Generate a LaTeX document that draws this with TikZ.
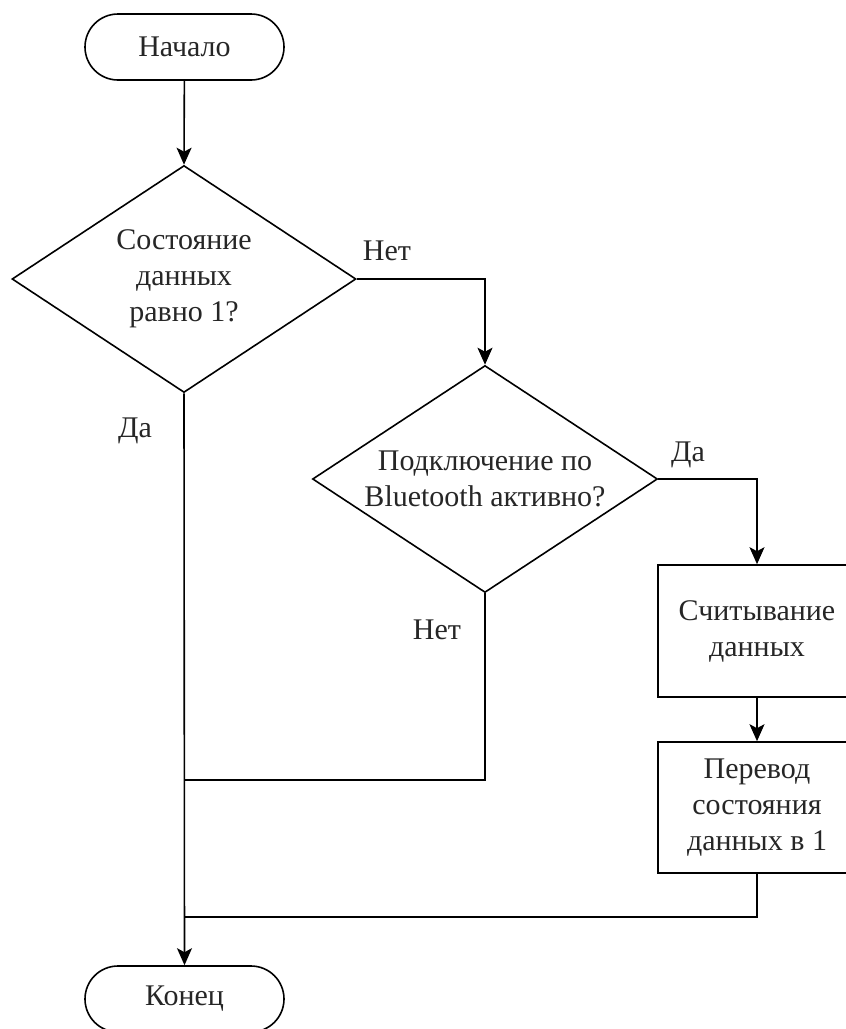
\documentclass[tikz,border=0pt]{standalone}
\usepackage{fontspec}
\setmainfont{Liberation Serif}
\usetikzlibrary{shapes.geometric,arrows.meta}
\begin{document}
\begin{tikzpicture}[x=1pt,y=-1pt,
  line width=1.6pt,
  every node/.style={font=\fontsize{30}{36}\selectfont, text=black!85},
  terminal/.style={draw, line width=1.6pt, rounded corners=33pt, minimum width=199pt, minimum height=66pt, inner sep=0pt},
  decision/.style={draw, diamond, line width=1.6pt, inner sep=0pt, minimum width=#1, minimum height=227pt},
  process/.style={draw, rectangle, line width=1.6pt, minimum width=198pt, inner sep=0pt},
  caption/.style={align=center, inner sep=0pt},
  edgelabel/.style={anchor=base, inner sep=0pt},
  flow/.style={-{Stealth[length=17pt,width=15pt,inset=4pt]}},
]
\useasboundingbox (0,0) rectangle (846,1029);
\clip (0,0) rectangle (846,1029);

% blocks
\node[terminal] (start) at (184.5,47) {Начало};
\node[decision=344pt] (d1) at (184,279) {};
\node[caption] (d1t) at (d1.center) {Состояние\\данных\\равно 1?};
\node[decision=345pt] (d2) at (485,479) {};
\node[caption] (d2t) at (d2.center) {Подключение по\\Bluetooth активно?};
\node[process, minimum height=132pt] (b1) at (757,631) {};
\node[caption] (b1t) at (b1.center) {Считывание\\данных};
\node[process, minimum height=131pt] (b2) at (757,807.5) {};
\node[caption] (b2t) at (b2.center) {Перевод\\состояния\\данных в 1};
\node[terminal] (finish) at (184.5,999) {Конец};

% junction points on the main line
\coordinate (j1) at (184.5,780);
\coordinate (j2) at (184.5,917);

% connectors
\draw[flow] (start) -- (d1.north);
\draw[flow] (d1.east) -| (d2.north);
\draw[flow] (d2.east) -| (b1.north);
\draw[flow] (b1) -- (b2);
\draw (d2.south) |- (j1);
\draw (b2.south) |- (j2);
\draw[flow] (d1.south) -- (finish.north);

% branch labels
\node[edgelabel] (l1) at (387,260) {Нет};
\node[edgelabel] (l2) at (135,437) {Да};
\node[edgelabel] (l3) at (688,461) {Да};
\node[edgelabel] (l4) at (437,639) {Нет};
\end{tikzpicture}
\end{document}
